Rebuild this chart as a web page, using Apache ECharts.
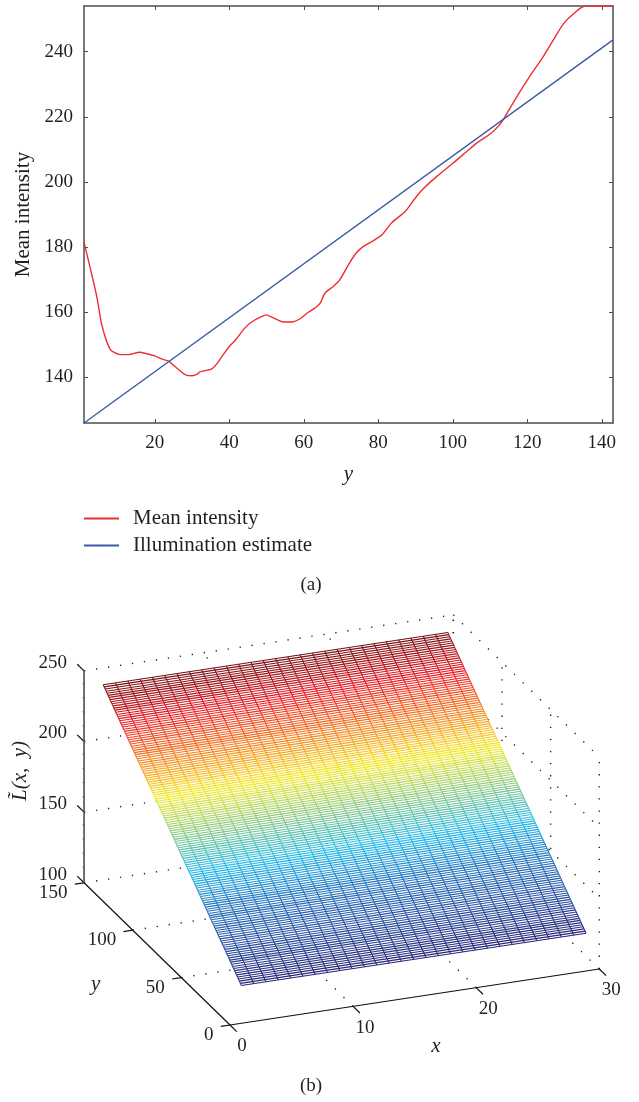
<!DOCTYPE html>
<html><head><meta charset="utf-8">
<style>html,body{margin:0;padding:0;background:#fff}#c{width:639px;height:1102px}</style>
<script src="https://cdn.jsdelivr.net/npm/echarts@6/dist/echarts.min.js"></script>
</head><body><div id="c"></div>
<script>
// ---------- Data ----------
const meanY = [1,3,4.5,5.8,8,10.7,13,15.9,18,20,22,23.7,25.9,28.6,30,31.3,32.1,35.3,37,38.4,40,41.6,44.2,46,48.2,49.9,51.8,54.5,57.2,59,61.2,63,64.4,65.7,67.9,69.7,72,74,76,78.7,81,83.6,87.2,89.9,92,95.7,100.1,104.2,106.4,110,112.3,114,117.2,120.3,124.4,127,129.7,132.4,135.5,143];
const meanValue = [181.5,172,164.4,156,148.7,147,147,147.7,147.2,146.6,145.6,145,142.9,140.6,140.5,140.9,141.7,142.6,144.7,147,149.5,151.4,155.2,157,158.4,159.2,158.3,157,157.1,158,160,161.3,162.8,165.9,167.9,170,174.6,178.1,180.2,182,183.8,187.5,190.9,195,197.8,201.7,205.8,209.8,211.9,214.7,217.2,220,226.2,231.8,238.7,243.6,248.5,251.6,254,254];
const estimateY = [1,143];
const estimateValue = [126,243.6];
const plotXTicks = [20,40,60,80,100,120,140];
const plotYTicks = [140,160,180,200,220,240];

// Surface: one illumination value per image row y = 1..143 (a plane in x)
const surfaceZ = [126.0,126.8,127.7,128.5,129.3,130.1,131.0,131.8,132.6,133.4,134.3,135.1,135.9,136.8,137.6,138.4,139.2,140.1,140.9,141.7,142.6,143.4,144.2,145.0,145.9,146.7,147.5,148.3,149.2,150.0,150.8,151.7,152.5,153.3,154.1,155.0,155.8,156.6,157.5,158.3,159.1,159.9,160.8,161.6,162.4,163.2,164.1,164.9,165.7,166.6,167.4,168.2,169.0,169.9,170.7,171.5,172.4,173.2,174.0,174.8,175.7,176.5,177.3,178.1,179.0,179.8,180.6,181.5,182.3,183.1,183.9,184.8,185.6,186.4,187.2,188.1,188.9,189.7,190.6,191.4,192.2,193.0,193.9,194.7,195.5,196.3,197.2,198.0,198.8,199.7,200.5,201.3,202.1,203.0,203.8,204.6,205.5,206.3,207.1,207.9,208.8,209.6,210.4,211.2,212.1,212.9,213.7,214.6,215.4,216.2,217.0,217.9,218.7,219.5,220.4,221.2,222.0,222.8,223.7,224.5,225.3,226.1,227.0,227.8,228.6,229.5,230.3,231.1,231.9,232.8,233.6,234.4,235.3,236.1,236.9,237.7,238.6,239.4,240.2,241.0,241.9,242.7,243.5];
const surfaceXCount = 29;
const xTicks3d = [0,10,20,30];
const yTicks3d = [0,50,100,150];
const zTicks3d = [100,150,200,250];
const zMinor3d = [110,120,130,140,160,170,180,190,210,220,230,240];

// ---------- Styles ----------
const FONT = '"Liberation Serif", serif';
const INK = '#231f20';
const AXIS = '#4d4d4d';
const RED = '#ee2d33';
const BLUE = '#3a5aa8';
const colormap = [[0,[38,36,118]],[0.125,[40,78,160]],[0.25,[32,112,190]],[0.375,[30,185,235]],[0.5,[135,200,130]],[0.625,[245,234,30]],[0.75,[245,125,28]],[0.875,[237,24,34]],[1,[118,16,20]]];
function jet(z){
  const t = Math.max(0,Math.min(1,(z-126)/(243.5-126)));
  for(let i=1;i<colormap.length;i++){
    if(t<=colormap[i][0]){
      const a=colormap[i-1],b=colormap[i],f=(t-a[0])/(b[0]-a[0]);
      return 'rgb('+a[1].map((v,k)=>Math.round(v+(b[1][k]-v)*f)).join(',')+')';
    }
  }
  return 'rgb(118,16,20)';
}
// Orthographic view of the 3-D box
function project(x,y,z){
  return [230+12.31*x-0.973*y, 1025-1.867*x-0.948*y-1.413*(z-100)];
}

// ---------- Build 3-D primitives from the arrays ----------
const dots=[], axisSegs=[], thinTicks=[], rowSegs=[], colSegs=[];
[10,20,30].forEach(x=>{ dots.push([x,150,100,x,150,250]); });
xTicks3d.slice(1).forEach(x=>{ dots.push([x,0,100,x,150,100]); });
yTicks3d.slice(1).forEach(y=>{ dots.push([0,y,100,30,y,100]); });
yTicks3d.forEach(y=>{ dots.push([30,y,100,30,y,250]); });
zTicks3d.slice(1).forEach(z=>{ dots.push([0,150,z,30,150,z]); dots.push([30,150,z,30,0,z]); });

axisSegs.push([0,0,100,30,0,100],[0,0,100,0,150,100]);
xTicks3d.forEach(x=>axisSegs.push([x,0,100,x,-7,100]));
yTicks3d.forEach(y=>axisSegs.push([0,y,100,-0.75,y,100]));
const zAxisSegs=[[0,150,100,0,150,250]];
zTicks3d.forEach(z=>axisSegs.push([0,150,z,0,157,z]));
zMinor3d.forEach(z=>thinTicks.push([0,150,z,0,152,z]));

const nRows=surfaceZ.length;
for(let r=0;r<nRows;r++){
  rowSegs.push([1,r+1,surfaceZ[r],surfaceXCount,r+1,surfaceZ[r]]);
}
for(let c=1;c<=surfaceXCount;c++){
  for(let r=0;r<nRows-1;r++){
    colSegs.push([c,r+1,surfaceZ[r],c,r+2,surfaceZ[r+1]]);
  }
}

function segSeries(data,style,z){
  return {type:'custom',xAxisIndex:2,yAxisIndex:2,coordinateSystem:'cartesian2d',silent:true,clip:false,
    animation:false,progressive:0,z:z,encode:{x:0,y:1},data:data,
    renderItem:(p,api)=>{
      const a=project(api.value(0),api.value(1),api.value(2)),b=project(api.value(3),api.value(4),api.value(5));
      const s=api.coord(a),e=api.coord(b);
      const st=typeof style==='function'?style((api.value(2)+api.value(5))/2):style;
      return {type:'line',shape:{x1:s[0],y1:s[1],x2:e[0],y2:e[1]},style:st};
    }};
}
// Text items: [text, px, py, align, rotation(deg), size, italic]
const texts=[];
xTicks3d.forEach(x=>{const p=project(x,0,100);texts.push([String(x),p[0]+12,p[1]+21.5,'center',0,19,0]);});
yTicks3d.forEach(y=>{const p=project(0,y,100);texts.push([String(y),p[0]-16.5,p[1]+10,'right',0,19,0]);});
zTicks3d.forEach(z=>{const p=project(0,150,z);texts.push([String(z),p[0]-17,p[1]-8,'right',0,19,0]);});
texts.push(['x',436,1046,'center',0,21,1]);
texts.push(['y',95.7,984,'center',0,21,1]);
texts.push(['L\u0303(x,\u00a0\u00a0y)',20,771,'center',90,21,1]);
texts.push(['(a)',311,585,'center',0,19,0]);
texts.push(['(b)',311,1086,'center',0,19,0]);

const textSeries={type:'custom',xAxisIndex:2,yAxisIndex:2,coordinateSystem:'cartesian2d',silent:true,clip:false,animation:false,z:20,
  encode:{x:1,y:2},data:texts.map((t,i)=>[i,t[1],t[2]]),
  renderItem:(p,api)=>{
    const t=texts[api.value(0)],c=api.coord([api.value(1),api.value(2)]);
    return {type:'text',x:c[0],y:c[1],rotation:t[4]*Math.PI/180,
      style:{text:t[0],fill:INK,align:t[3],verticalAlign:'middle',font:(t[6]?'italic ':'')+t[5]+'px '+FONT}};
  }};

const surfaceFill={type:'custom',xAxisIndex:2,yAxisIndex:2,coordinateSystem:'cartesian2d',silent:true,clip:false,animation:false,z:4,
  encode:{x:0,y:1},data:[[0,0]],
  renderItem:(p,api)=>{
    const last=nRows-1;
    const pts=[project(1,1,surfaceZ[0]),project(surfaceXCount,1,surfaceZ[0]),project(surfaceXCount,nRows,surfaceZ[last]),project(1,nRows,surfaceZ[last])].map(q=>api.coord(q));
    return {type:'polygon',shape:{points:pts},style:{fill:'#fff'}};
  }};

const chart=echarts.init(document.getElementById('c'),null,{renderer:'canvas'});
const tickLbl={color:INK,fontFamily:FONT,fontSize:19};
chart.setOption({
  animation:false,
  backgroundColor:'#fff',
  legend:{data:['Mean intensity','Illumination estimate'],orient:'vertical',left:83,top:508,padding:0,itemWidth:35,itemHeight:2,itemGap:6,
    textStyle:{color:INK,fontFamily:FONT,fontSize:21,padding:[0,0,0,9]},selectedMode:false},
  grid:[
    {left:84,top:6,width:529,height:417},
    {left:0,top:0,width:639,height:1102,show:false}
  ],
  xAxis:[
    {type:'value',gridIndex:0,min:1,max:143,position:'bottom',name:'y',nameLocation:'middle',nameGap:41,
      nameTextStyle:{color:INK,fontFamily:FONT,fontSize:21,fontStyle:'italic'},
      axisLine:{lineStyle:{color:AXIS,width:1.5}},splitLine:{show:false},
      axisTick:{inside:true,length:4,lineStyle:{color:AXIS,width:1},customValues:plotXTicks},
      axisLabel:{...tickLbl,margin:10.5,customValues:plotXTicks}},
    {type:'value',gridIndex:0,min:1,max:143,position:'top',
      axisLine:{lineStyle:{color:AXIS,width:1.5}},splitLine:{show:false},
      axisTick:{inside:true,length:4,lineStyle:{color:AXIS,width:1},customValues:plotXTicks},
      axisLabel:{show:false}},
    {type:'value',gridIndex:1,min:0,max:639,show:false}
  ],
  yAxis:[
    {type:'value',gridIndex:0,min:126,max:254,position:'left',name:'Mean intensity',nameLocation:'middle',nameGap:50,
      nameTextStyle:{color:INK,fontFamily:FONT,fontSize:21},
      axisLine:{lineStyle:{color:AXIS,width:1.5}},splitLine:{show:false},
      axisTick:{inside:true,length:4,lineStyle:{color:AXIS,width:1},customValues:plotYTicks},
      axisLabel:{...tickLbl,margin:11,customValues:plotYTicks}},
    {type:'value',gridIndex:0,min:126,max:254,position:'right',
      axisLine:{lineStyle:{color:AXIS,width:1.5}},splitLine:{show:false},
      axisTick:{inside:true,length:4,lineStyle:{color:AXIS,width:1},customValues:plotYTicks},
      axisLabel:{show:false}},
    {type:'value',gridIndex:1,min:0,max:1102,inverse:true,show:false}
  ],
  series:[
    {name:'Mean intensity',type:'line',xAxisIndex:0,yAxisIndex:0,symbol:'none',z:3,smooth:0.25,
      data:meanY.map((x,i)=>[x,meanValue[i]]),lineStyle:{color:RED,width:1.4},itemStyle:{color:RED}},
    {name:'Illumination estimate',type:'line',xAxisIndex:0,yAxisIndex:0,symbol:'none',z:3,
      data:estimateY.map((x,i)=>[x,estimateValue[i]]),lineStyle:{color:BLUE,width:1.4},itemStyle:{color:BLUE}},
    segSeries(dots,{stroke:'#222',lineWidth:1.4,lineDash:[1.3,10.8]},2),
    surfaceFill,
    segSeries(rowSegs,z=>({stroke:jet(z),lineWidth:1.1}),5),
    segSeries(colSegs,z=>({stroke:jet(z),lineWidth:1.05}),6),
    segSeries(axisSegs,{stroke:'#111',lineWidth:1.2},8),
    segSeries(zAxisSegs,{stroke:AXIS,lineWidth:1.6},8),
    segSeries(thinTicks,{stroke:AXIS,lineWidth:0.6},8),
    textSeries
  ]
});
</script></body></html>
